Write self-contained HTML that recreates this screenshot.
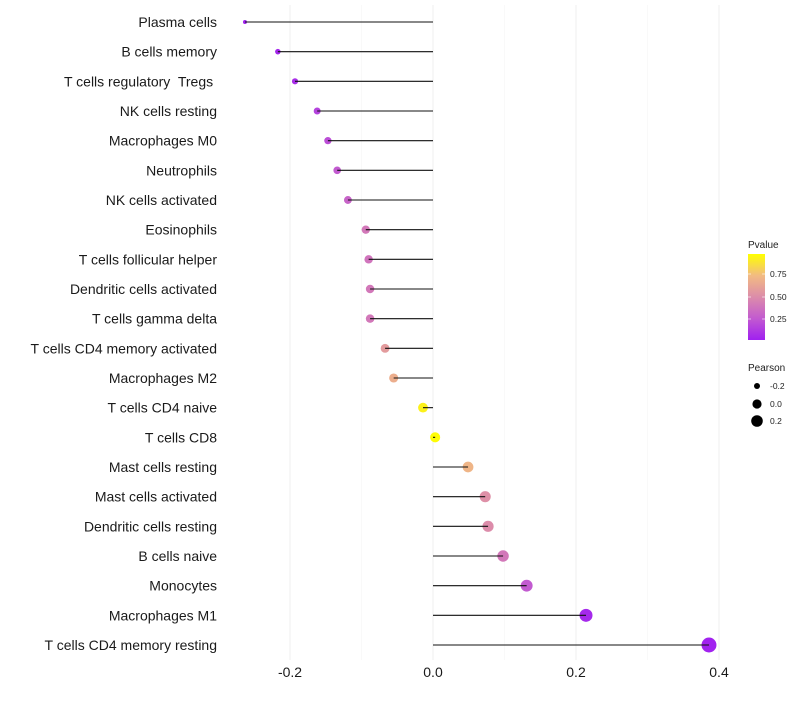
<!DOCTYPE html>
<html><head><meta charset="utf-8"><style>
body{margin:0;background:#fff;font-family:"Liberation Sans",sans-serif;}
text{white-space:pre;}
</style></head><body>
<svg id="c" width="800" height="700" xmlns="http://www.w3.org/2000/svg" xml:space="preserve">
<defs><linearGradient id="g" x1="0" y1="1" x2="0" y2="0">
<stop offset="0" stop-color="#a020f0"/><stop offset="0.25" stop-color="#c25ad0"/><stop offset="0.5" stop-color="#dc8caa"/><stop offset="0.75" stop-color="#f2bb82"/><stop offset="1" stop-color="#ffff00"/></linearGradient></defs>
</svg>
<script>
const categories=["Plasma cells","B cells memory","T cells regulatory  Tregs ","NK cells resting","Macrophages M0","Neutrophils","NK cells activated","Eosinophils","T cells follicular helper","Dendritic cells activated","T cells gamma delta","T cells CD4 memory activated","Macrophages M2","T cells CD4 naive","T cells CD8","Mast cells resting","Mast cells activated","Dendritic cells resting","B cells naive","Monocytes","Macrophages M1","T cells CD4 memory resting"];
const pearson=[-0.263,-0.217,-0.193,-0.162,-0.147,-0.134,-0.119,-0.094,-0.090,-0.088,-0.088,-0.067,-0.055,-0.014,0.003,0.049,0.073,0.077,0.098,0.131,0.214,0.386];
const pvalue=[0.01,0.03,0.06,0.15,0.2,0.25,0.3,0.4,0.38,0.4,0.4,0.58,0.68,0.95,0.99,0.72,0.52,0.5,0.4,0.25,0.04,0.01];
const xTicks=[-0.2,0,0.2,0.4];
const xTickLabels=["-0.2","0.0","0.2","0.4"];
const minorTicks=[-0.1,0.1,0.3];
const svg=document.getElementById('c');const NS="http://www.w3.org/2000/svg";
function mk(t,a,p){const e=document.createElementNS(NS,t);for(const k in a)e.setAttribute(k,a[k]);(p||svg).appendChild(e);return e;}
const x=v=>433+v*715;
const y=i=>22+i*(623/21);
const stops=[[0,[160,32,240]],[0.25,[194,90,208]],[0.5,[220,140,170]],[0.75,[242,187,130]],[1,[255,255,0]]];
function col(p){for(let i=0;i<stops.length-1;i++){const[a,ca]=stops[i],[b,cb]=stops[i+1];if(p<=b){const t=(p-a)/(b-a);return 'rgb('+ca.map((c,k)=>Math.round(c+(cb[k]-c)*t)).join(',')+')';}}return 'rgb(255,255,0)';}
const rad=v=>Math.sqrt(Math.max(2,4+80*(v+0.263)));
minorTicks.forEach(v=>{const l=mk('line',{x1:x(v),x2:x(v),y1:5,y2:660,stroke:'#f5f5f5','stroke-width':0.6});

});
xTicks.forEach((v,i)=>{const l=mk('line',{x1:x(v),x2:x(v),y1:5,y2:660,stroke:'#efefef','stroke-width':1});


const t=mk('text',{x:x(v),y:677,'text-anchor':'middle','font-size':14,fill:'#1a1a1a'});t.textContent=xTickLabels[i];

});
categories.forEach((c,i)=>{const t=mk('text',{x:217,y:y(i)+5,'text-anchor':'end','font-size':14,fill:'#1a1a1a'});t.textContent=c;


const d=mk('circle',{cx:x(pearson[i]),cy:y(i),r:rad(pearson[i]),fill:col(pvalue[i])});


const s=mk('line',{x1:x(0),x2:x(pearson[i]),y1:y(i),y2:y(i),stroke:'#111','stroke-width':1.1});

});
const lt=mk('text',{x:748,y:248,'font-size':10,fill:'#222'});lt.textContent='Pvalue';


const cb=mk('rect',{x:748,y:254,width:17,height:86,fill:'url(#g)'});


[[0.75,274],[0.5,297],[0.25,319]].forEach(([v,yy])=>{mk('line',{x1:748,x2:751,y1:yy,y2:yy,stroke:'#fff','stroke-width':0.6});mk('line',{x1:762,x2:765,y1:yy,y2:yy,stroke:'#fff','stroke-width':0.6});
const t=mk('text',{x:770,y:yy+3,'font-size':8.5,fill:'#222'});t.textContent=v.toFixed(2);

});
const st=mk('text',{x:748,y:371,'font-size':10,fill:'#222'});st.textContent='Pearson';


[[-0.2,386,3],[0.0,404,4.6],[0.2,421,5.8]].forEach(([v,yy,r])=>{mk('circle',{cx:757,cy:yy,r:r,fill:'#000'});
const t=mk('text',{x:770,y:yy+3,'font-size':8.5,fill:'#222'});t.textContent=v.toFixed(1);

});
</script>
</body></html>
